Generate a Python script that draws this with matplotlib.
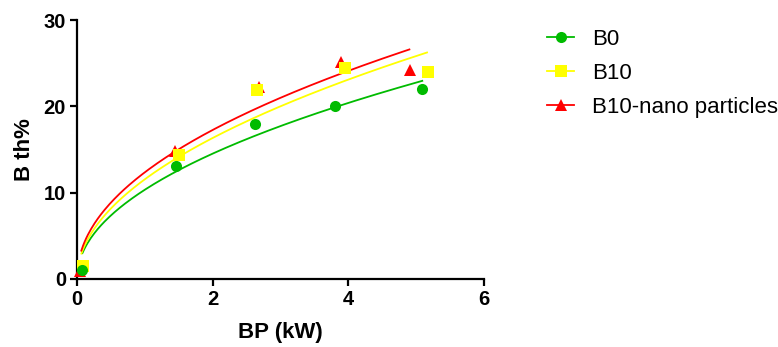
import matplotlib
matplotlib.use("Agg")
import matplotlib.pyplot as plt
import numpy as np
from matplotlib.lines import Line2D

plt.rcParams['font.family'] = ['Liberation Sans', 'DejaVu Sans']

series_names = ["B0", "B10", "B10-nano particles"]
bp_b0 = [0.08, 1.46, 2.63, 3.80, 5.09]
bth_b0 = [1.05, 13.1, 17.9, 20.0, 21.95]
bp_b10 = [0.09, 1.50, 2.65, 3.95, 5.18]
bth_b10 = [1.5, 14.4, 21.9, 24.4, 24.0]
bp_nano = [0.04, 1.44, 2.69, 3.89, 4.91]
bth_nano = [0.9, 14.8, 22.2, 25.1, 24.2]

# power-law fit parameters y = a * x^b
fit_a = [10.34, 11.55, 12.36]
fit_b = [0.49, 0.50, 0.482]
fit_xstart = [0.08, 0.065, 0.064]
fit_xend = [5.09, 5.16, 4.90]

colors = ["#00BB00", "#FFFF00", "#FF0000"]
markers = ["o", "s", "^"]
msizes = [8, 8.5, 8.5]

fig = plt.figure(figsize=(7.78, 3.47), dpi=100)
ax = fig.add_axes([77/778, 1-279/347, (484-77)/778, (279-20)/347])

xs_all = [bp_b0, bp_b10, bp_nano]
ys_all = [bth_b0, bth_b10, bth_nano]
for i in range(3):
    xx = np.linspace(fit_xstart[i], fit_xend[i], 200)
    ax.plot(xx, fit_a[i] * xx ** fit_b[i], color=colors[i], lw=1.3, zorder=2)
for i in [2, 1, 0]:
    ax.plot(xs_all[i], ys_all[i], linestyle='none', marker=markers[i],
            color=colors[i], ms=msizes[i], markeredgewidth=0, zorder=3, clip_on=False)

ax.set_xlim(0, 6)
ax.set_ylim(0, 30)
ax.set_xticks([0, 2, 4, 6])
ax.set_yticks([0, 10, 20, 30])
for s in ['top', 'right']:
    ax.spines[s].set_visible(False)
for s in ['left', 'bottom']:
    ax.spines[s].set_linewidth(1.6)
ax.tick_params(axis='both', direction='out', length=5, width=1.6, labelsize=14.5, pad=3)
for lbl in ax.get_xticklabels() + ax.get_yticklabels():
    lbl.set_fontweight('bold')
ax.set_xlabel("BP (kW)", fontsize=16, fontweight='bold', labelpad=9)
ax.set_ylabel("B th%", fontsize=16, fontweight='bold', labelpad=6)

handles = [Line2D([0], [0], color=colors[i], marker=markers[i], ms=msizes[i],
                  markeredgewidth=0, lw=1.3) for i in range(3)]
leg = fig.legend(handles, series_names, loc='upper left', bbox_to_anchor=(547/778, 1-29/347),
                 frameon=False, fontsize=16, handlelength=1.22, handletextpad=0.8,
                 labelspacing=0.58, borderaxespad=0, borderpad=0)

fig.savefig("out.png", dpi=100)
